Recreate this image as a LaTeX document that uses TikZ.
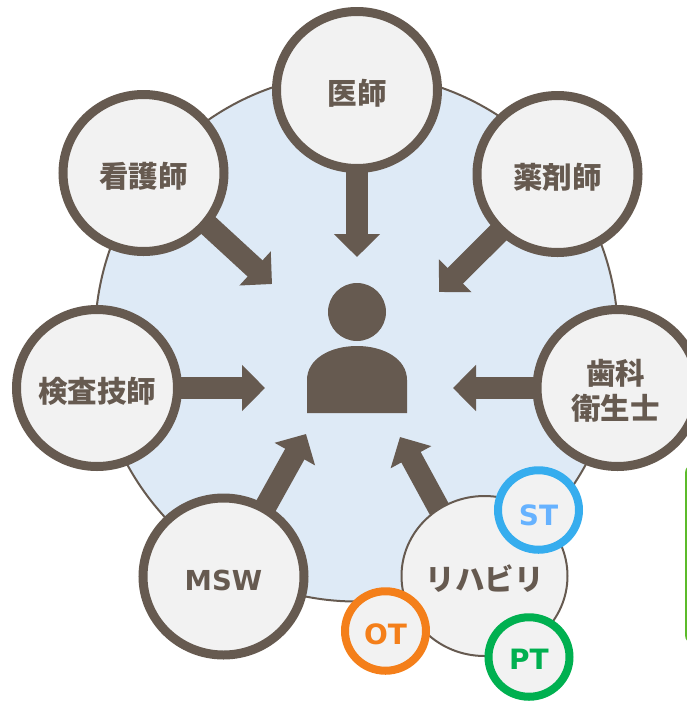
\documentclass[tikz,border=0pt]{standalone}
\usepackage{fontspec}
\setmainfont{DejaVu Sans}
\newfontfamily\jpfont{Noto Sans CJK JP}
\usetikzlibrary{arrows.meta,backgrounds,shapes.geometric}
\definecolor{brownline}{HTML}{665A50}
\definecolor{palefill}{HTML}{F2F2F2}
\definecolor{paleblue}{HTML}{DEEAF6}
\definecolor{stline}{HTML}{36ADEE}
\definecolor{sttext}{HTML}{66B2FF}
\definecolor{otline}{HTML}{F47F1A}
\definecolor{ptline}{HTML}{00B050}
\definecolor{greenedge}{HTML}{5CBB2A}
\newcommand{\dn}[2][3pt]{\raisebox{-#1}[\height][\depth]{#2}}
\tikzset{
  staff/.style={ellipse,draw=brownline,fill=palefill,line width=9pt,minimum width=161pt,minimum height=157pt,inner sep=-5pt,
    text=brownline,align=center,font=\fontsize{29.5}{35}\selectfont\jpfont\bfseries},
  staffen/.style={staff,font=\fontsize{27.5}{33}\selectfont\bfseries},
  sub/.style={ellipse,draw=#1,fill=palefill,line width=8pt,minimum width=81pt,minimum height=79.5pt,inner sep=-5pt,
    text=#1,font=\fontsize{28}{33}\selectfont\bfseries},
  bigarrow/.style={draw=brownline,line width=22pt,shorten <=-3pt,-{Triangle[length=23pt,width=45pt,fill=brownline]}}
}
\begin{document}
\begin{tikzpicture}[x=1pt,y=-1pt]
\clip (0,0) rectangle (687,702);
% staff
\node [staff] (ishi) at (357,90) {\dn{医師}};
\node [staff] (kango) at (143.5,173) {\dn{看護師}};
\node [staff] (yakuzai) at (557.5,174) {\dn{薬剤師}};
\node [staff] (kensa) at (97,388) {\dn{検査技師}};
\node [staff] (shika) at (617.5,388) {\dn{歯科}\hspace*{4pt}\\\dn{衛生士}\hspace*{4pt}};
\node [staffen] (msw) at (223.5,576.5) {\dn[3.5pt]{MSW}};
\node [staff,line width=2pt,minimum width=166pt,minimum height=160pt] (reha) at (484.5,576) {\dn{リハビリ}};
\node [sub=stline,text=sttext] (st) at (538.5,510) {\dn[5pt]{ST}};
\node [sub=otline] (ot) at (385.5,631) {\dn[3pt]{OT}};
\node [sub=ptline] (pt) at (529,657) {\dn[2pt]{PT}};
% patient
\node [circle,fill=brownline,minimum size=58pt,inner sep=0pt] (head) at (357,312) {};
\fill [brownline] (307,413) -- (307,380) .. controls (307,359) and (330,346) .. (357,346)
  .. controls (384,346) and (407,359) .. (407,380) -- (407,413) -- cycle;
% arrow tips
\coordinate (t1) at (357,257);
\coordinate (t2) at (272,284);
\coordinate (t3) at (439,292);
\coordinate (t4) at (265,388);
\coordinate (t5) at (453,388);
\coordinate (t6) at (306,434);
\coordinate (t7) at (400,437);
\begin{scope}[on background layer]
\node [ellipse,draw=brownline,fill=paleblue,line width=2pt,minimum width=523pt,minimum height=528pt,inner sep=0pt] (ring) at (356.5,337.5) {};
\draw [bigarrow] (ishi) -- (t1);
\draw [bigarrow] (kango.-39) -- (t2);
\draw [bigarrow] (yakuzai) -- (t3);
\draw [bigarrow] (kensa) -- (t4);
\draw [bigarrow] (shika) -- (t5);
\draw [bigarrow] (msw.59) -- (t6);
\draw [bigarrow] (reha.124) -- (t7);
\end{scope}
\draw [greenedge,line width=3pt,rounded corners=8pt] (720,465) -- (686.5,465) -- (686.5,643) -- (720,643);
\end{tikzpicture}
\end{document}
